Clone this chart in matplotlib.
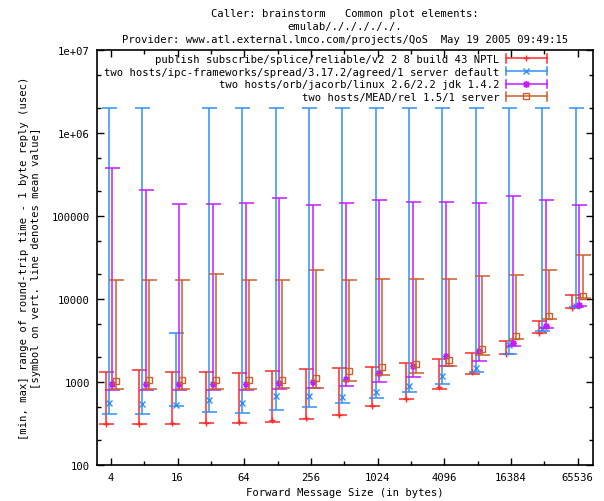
import numpy as np
import matplotlib
matplotlib.use("Agg")
import matplotlib.pyplot as plt
from matplotlib.lines import Line2D
from matplotlib.legend_handler import HandlerBase
from matplotlib.ticker import FixedLocator, FuncFormatter, NullFormatter, LogLocator

plt.rcParams['font.family'] = ['DejaVu Sans Mono', 'DejaVu Sans']
plt.rcParams['font.size'] = 7.6

msg_sizes = [4, 8, 16, 32, 64, 128, 256, 512, 1024, 2048, 4096, 8192, 16384, 32768, 65536]

labels = ["publish subscribe/splice/reliable/v2 2 8 build 43 NPTL",
          "two hosts/ipc-frameworks/spread/3.17.2/agreed/1 server default",
          "two hosts/orb/jacorb/linux 2.6/2.2 jdk 1.4.2",
          "two hosts/MEAD/rel 1.5/1 server"]

splice_min = [308, 308, 308, 319, 319, 328, 363, 402, 507, 621, 815, 1256, 2155, 3864, 7815]
splice_mean = [310, 310, 325, 322, 334, 347, 365, 405, 512, 628, 875, 1306, 2180, 3900, 7880]
splice_max = [1306, 1392, 1306, 1306, 1270, 1355, 1419, 1472, 1514, 1707, 1905, 2254, 3148, 5480, 11120]

spread_min = [413, 413, 507, 437, 425, 454, 493, 556, 639, 748, 944, 1328, 2155, 4083, 8040]
spread_mean = [556, 541, 526, 604, 556, 681, 681, 662, 762, 899, 1169, 1482, 2790, 4355, 8260]
spread_max = [2.0e6, 2.0e6, 3860, 2.0e6, 2.0e6, 2.0e6, 2.0e6, 2.0e6, 2.0e6, 2.0e6,
              2.0e6, 2.0e6, 2.0e6, 2.0e6, 2.0e6]

jacorb_min = [798, 798, 798, 798, 798, 828, 837, 885, 997, 1156, 1542, 1786, 2716, 4519, 8260]
jacorb_mean = [935, 935, 935, 935, 935, 970, 990, 1084, 1270, 1570, 2070, 2361, 2972, 4736, 8550]
jacorb_max = [376000, 204000, 138000, 138000, 143700, 166000, 134000, 143700, 156000, 147600,
              147600, 143700, 176000, 156000, 134000]

mead_min = [815, 815, 815, 815, 815, 837, 851, 1025, 1222, 1291, 1542, 2128, 3325, 5795, 10400]
mead_mean = [1032, 1063, 1063, 1063, 1063, 1063, 1124, 1343, 1514, 1644, 1853, 2495, 3555, 6195, 10800]
mead_max = [17100, 17100, 17100, 20000, 17100, 17100, 22400, 17100, 17600, 17600, 17600, 18800,
            19500, 22400, 34100]

colors = ["#ff2a2a", "#2f8ff5", "#c21cff", "#c8602a"]
markers = ["+", "x", (8, 2, 0), "s"]
marker_sizes = [5, 4.5, 5, 4.5]
# small sideways shift of each series inside a group (multiplicative, log2 axis)
shifts = [0.895, 0.959, 1.035, 1.105]


class CapLineHandler(HandlerBase):
    # gnuplot style key sample: horizontal bar with end caps and point in the middle
    def create_artists(self, legend, orig_handle, xdescent, ydescent, width, height, fontsize, trans):
        c = orig_handle.get_color()
        y = (height - ydescent) / 2.0
        x0, x1 = -xdescent, width - xdescent
        h = 3.0
        arts = [Line2D([x0, x1], [y, y], color=c, lw=1.1),
                Line2D([x0, x0], [y - h, y + h], color=c, lw=1.1),
                Line2D([x1, x1], [y - h, y + h], color=c, lw=1.1),
                Line2D([(x0 + x1) / 2.0], [y], color=c, marker=orig_handle.get_marker(),
                       markersize=orig_handle.get_markersize(),
                       markerfacecolor=orig_handle.get_markerfacecolor(),
                       markeredgewidth=1.0, linestyle="none")]
        for a in arts:
            a.set_transform(trans)
        return arts


fig = plt.figure(figsize=(6.04, 5.02), dpi=100)
ax = fig.add_axes([97 / 604, 36 / 502, 496 / 604, 415 / 502])

all_series = [(splice_min, splice_mean, splice_max),
              (spread_min, spread_mean, spread_max),
              (jacorb_min, jacorb_mean, jacorb_max),
              (mead_min, mead_mean, mead_max)]

handles = []
for (lo, mid, hi), color, marker, ms, shift in zip(all_series, colors, markers, marker_sizes, shifts):
    x = np.array(msg_sizes) * shift
    lo, mid, hi = np.array(lo), np.array(mid), np.array(hi)
    ax.errorbar(x, mid, yerr=[mid - lo, hi - mid], fmt="none", ecolor=color,
                elinewidth=1.1, capsize=5.4, capthick=1.1)
    mfc = "none" if marker == "s" else color
    ax.plot(x, mid, linestyle="none", marker=marker, color=color, markersize=ms,
            markerfacecolor=mfc, markeredgewidth=1.0)
    handles.append(Line2D([], [], color=color, marker=marker, markersize=ms, markerfacecolor=mfc))

ax.set_xscale("log", base=2)
ax.set_yscale("log")
ax.set_xlim(3, 90000)
ax.set_ylim(100, 1e7)

ax.xaxis.set_major_locator(FixedLocator(msg_sizes[::2]))
ax.xaxis.set_minor_locator(FixedLocator(msg_sizes[1::2]))
ax.xaxis.set_major_formatter(FuncFormatter(lambda v, p: "%d" % round(v)))
ax.xaxis.set_minor_formatter(NullFormatter())
ax.yaxis.set_major_locator(LogLocator(base=10))
ax.yaxis.set_minor_locator(LogLocator(base=10, subs=(2, 5)))
ax.yaxis.set_major_formatter(FuncFormatter(lambda v, p: "%.0e" % v if v >= 1e6 else "%d" % round(v)))
ax.yaxis.set_minor_formatter(NullFormatter())

ax.tick_params(which="both", direction="in", top=True, right=True, width=1, colors="black")
ax.tick_params(which="major", length=5, pad=5)
ax.tick_params(which="minor", length=3)
for sp in ax.spines.values():
    sp.set_linewidth(1.2)

ax.set_title("Caller: brainstorm   Common plot elements:\n"
             "emulab/./././././.\n"
             "Provider: www.atl.external.lmco.com/projects/QoS  May 19 2005 09:49:15",
             fontsize=7.6, linespacing=1.35, pad=6)
ax.set_xlabel("Forward Message Size (in bytes)", labelpad=4)
ax.set_ylabel("[min, max] range of round-trip time - 1 byte reply (usec)\n"
              "[symbol on vert. line denotes mean value]", linespacing=1.25)
ax.yaxis.set_label_coords(-0.113, 0.5)

ax.legend(handles, labels, handler_map={Line2D: CapLineHandler()}, loc="upper right",
          bbox_to_anchor=(0.907, 0.99), frameon=False, markerfirst=False,
          handlelength=3.9, handletextpad=0.6, labelspacing=0.25, borderpad=0,
          borderaxespad=0, fontsize=7.6)

fig.savefig("out.png", dpi=100)
